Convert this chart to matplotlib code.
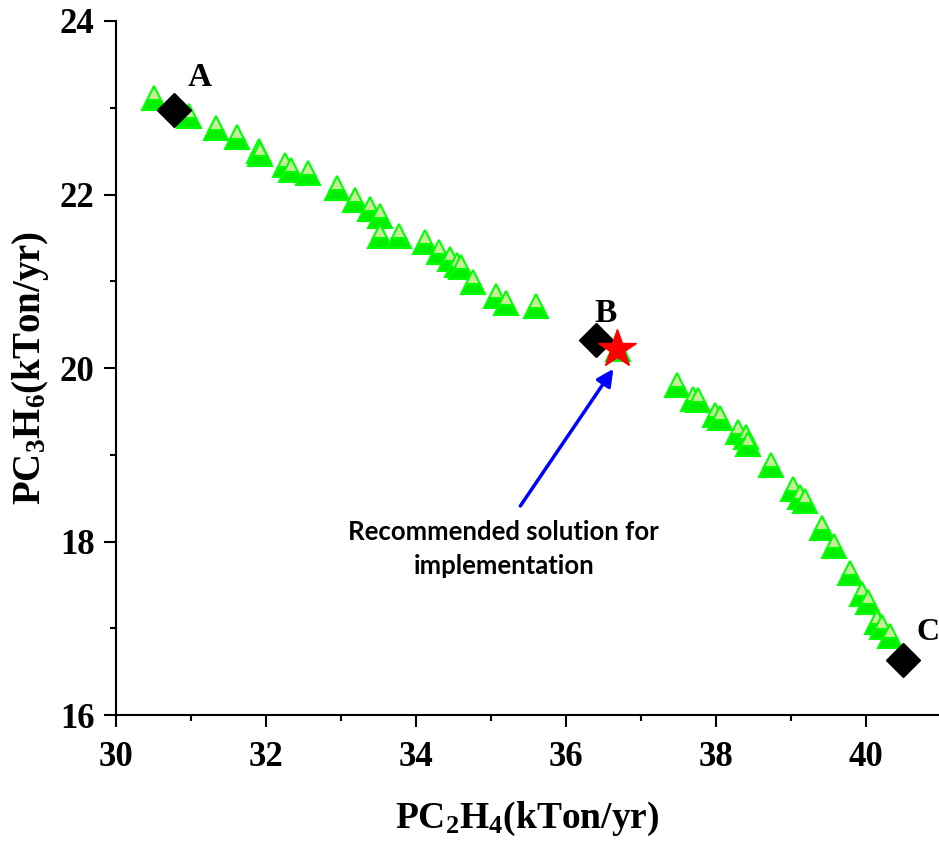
import matplotlib
matplotlib.use('Agg')
import matplotlib.pyplot as plt
from matplotlib.ticker import MultipleLocator

plt.rcParams['font.family'] = 'Liberation Serif'
plt.rcParams['font.weight'] = 'bold'
plt.rcParams['axes.labelweight'] = 'bold'
plt.rcParams['mathtext.fontset'] = 'custom'
plt.rcParams['mathtext.rm'] = 'Liberation Serif:bold'
plt.rcParams['mathtext.it'] = 'Liberation Serif:bold'
plt.rcParams['mathtext.bf'] = 'Liberation Serif:bold'

# Pareto front points (PC2H4, PC3H6)
tri_x = [30.51, 30.97, 31.33, 31.61, 31.90, 31.92, 32.25, 32.33, 32.56, 32.95,
         33.19, 33.39, 33.52, 33.52, 33.77, 34.12, 34.31, 34.45, 34.55, 34.60,
         34.76, 35.07, 35.20, 35.60, 36.69, 37.48, 37.69, 37.76, 37.99, 38.05,
         38.29, 38.40, 38.42, 38.73, 39.03, 39.12, 39.19, 39.41, 39.57, 39.79,
         39.95, 40.03, 40.15, 40.21, 40.32]
tri_y = [23.11, 22.90, 22.77, 22.66, 22.50, 22.47, 22.34, 22.28, 22.25, 22.07,
         21.94, 21.83, 21.75, 21.52, 21.52, 21.45, 21.34, 21.26, 21.19, 21.16,
         20.99, 20.83, 20.75, 20.71, 20.22, 19.80, 19.64, 19.63, 19.46, 19.42,
         19.26, 19.20, 19.12, 18.88, 18.61, 18.51, 18.47, 18.16, 17.95, 17.64,
         17.40, 17.30, 17.07, 17.01, 16.91]

# extreme points A, B, C
end_names = ['A', 'B', 'C']
end_x = [30.77, 36.40, 40.49]
end_y = [22.97, 20.32, 16.63]

# recommended solution
best_x = 36.68
best_y = 20.22

fig = plt.figure(figsize=(9.39, 8.43), dpi=100)
ax = fig.add_axes([0.1235, 0.1518, 0.8765, 0.8233])

ax.plot(tri_x, tri_y, linestyle='none', marker='^', markersize=17.5,
        fillstyle='bottom', markerfacecolor='#00ee00',
        markerfacecoloralt='#c8eb9c', markeredgecolor='#00ff00',
        markeredgewidth=1.5, zorder=3)
ax.plot(end_x, end_y, linestyle='none', marker='D', markersize=17,
        color='black', zorder=4)
ax.plot([best_x], [best_y], linestyle='none', marker='*', markersize=29,
        color='red', zorder=5)

ax.text(31.12, 23.35, 'A', fontsize=24, ha='center', va='center')
ax.text(36.52, 20.63, 'B', fontsize=24, ha='center', va='center')
ax.text(40.67, 16.95, 'C', fontsize=23, ha='left', va='center')

ax.annotate('', xy=(36.63, 19.99), xytext=(35.39, 18.41),
            arrowprops=dict(arrowstyle='-|>', color='blue', lw=2.5,
                            mutation_scale=25, shrinkA=0, shrinkB=0))
ax.text(35.17, 17.91, 'Recommended solution for\nimplementation',
        family='Lato', fontweight='bold', fontsize=18.5, ha='center',
        va='center', linespacing=1.5)

ax.set_xlim(30, 40.97)
ax.set_ylim(16, 24)
ax.xaxis.set_major_locator(MultipleLocator(2))
ax.xaxis.set_minor_locator(MultipleLocator(1))
ax.yaxis.set_major_locator(MultipleLocator(2))
ax.yaxis.set_minor_locator(MultipleLocator(1))

ax.spines['top'].set_visible(False)
ax.spines['right'].set_visible(False)
ax.spines['left'].set_linewidth(1.5)
ax.spines['bottom'].set_linewidth(1.5)
ax.tick_params(which='major', direction='out', length=8.5, width=1.5,
               labelsize=25, pad=7)
ax.tick_params(axis='x', which='major', pad=10)
ax.tick_params(which='minor', direction='out', length=4.5, width=1.5)

ax.set_xlabel(r'PC$_2$H$_4$(kTon/yr)', fontsize=27, labelpad=19)
ax.set_ylabel(r'PC$_3$H$_6$(kTon/yr)', fontsize=28, labelpad=6)

plt.savefig('out.png', dpi=100)
